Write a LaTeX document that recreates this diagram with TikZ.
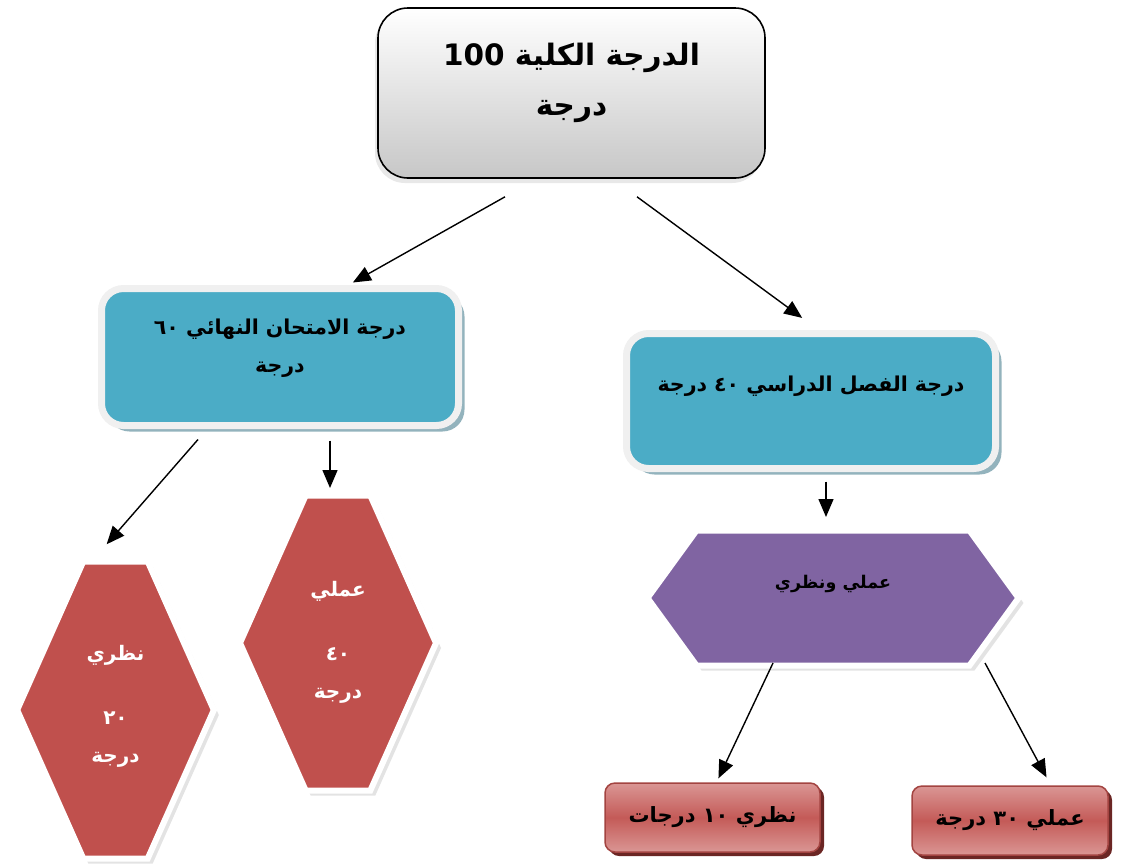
\documentclass[tikz,border=0pt]{standalone}
\usepackage{fontspec}
\usepackage{xcolor}
\usetikzlibrary{shapes.symbols,shadows,arrows.meta}
\newfontfamily\arabicfont[Script=Arabic]{DejaVu Sans}
\TeXXeTstate=1
\newcommand{\ar}[1]{\beginR #1\endR}

\definecolor{BlueAccent}{HTML}{4BACC6}
\definecolor{RedAccent}{HTML}{C0504D}
\definecolor{PurpleAccent}{HTML}{8064A2}
\definecolor{LightRed}{HTML}{DA9694}
\definecolor{DarkRed}{HTML}{6B2624}
\definecolor{FrameGray}{HTML}{F0F0F0}
\definecolor{BlueShadow}{HTML}{93B3BD}

\begin{document}
\begin{tikzpicture}[x=1pt,y=1pt,->,>={Triangle[length=18pt,width=15pt]},shorten >=1pt,line width=1.4pt,
  main node/.style={align=center,font=\arabicfont\bfseries},
  total node/.style={main node,rectangle,rounded corners=30pt,draw=black,line width=1.6pt,top color=white,bottom color=black!22,
    minimum width=387pt,minimum height=170pt,font=\arabicfont\bfseries\fontsize{29.5}{35}\selectfont,
    drop shadow={opacity=0.18,shadow xshift=-3pt,shadow yshift=-5pt}},
  blue node/.style={main node,rectangle,rounded corners=22pt,draw=FrameGray,line width=7pt,fill=BlueAccent,
    font=\arabicfont\bfseries\fontsize{20.5}{25}\selectfont,
    drop shadow={fill=BlueShadow,opacity=1,shadow xshift=6pt,shadow yshift=-6pt}},
  hex node/.style={main node,signal,signal to=east and west,draw=white,line width=6pt,
    drop shadow={opacity=0.22,shadow xshift=5pt,shadow yshift=-5pt}},
  red hex/.style={hex node,fill=RedAccent,text=white,signal pointer angle=132,
    font=\arabicfont\bfseries\fontsize{20}{24}\selectfont},
  purple hex/.style={hex node,fill=PurpleAccent,signal pointer angle=108,
    font=\arabicfont\bfseries\fontsize{17.5}{21}\selectfont},
  red box/.style={main node,rectangle,rounded corners=10pt,draw=RedAccent!85!black,line width=1.5pt,
    top color=LightRed,bottom color=LightRed,middle color=RedAccent!85!LightRed,minimum height=69pt,
    font=\arabicfont\bfseries\fontsize{21}{25}\selectfont,
    drop shadow={fill=DarkRed,opacity=1,shadow xshift=4pt,shadow yshift=-4pt}}]

\useasboundingbox (0,0) rectangle (1129,-865);

\node[total node,text height=54pt,text depth=10pt] (1) at (571.5,-93) {\ar{الدرجة الكلية \beginL 100\endL}\\[15pt]\ar{درجة}};

\node[blue node,minimum width=357pt,minimum height=137pt,text height=44pt,text depth=14pt] (2) at (280,-357)
  {\ar{درجة الامتحان النهائي ٦٠}\\[13pt]\ar{درجة}};
\node[blue node,minimum width=369pt,minimum height=135pt,text height=10pt,text depth=30pt] (3) at (811,-401)
  {\ar{درجة الفصل الدراسي ٤٠ درجة}};

\node[red hex,minimum width=191pt,minimum height=297pt,text height=110pt,text depth=6pt] (4) at (115.5,-710)
  {\ar{نظري}\\[40pt]\ar{٢٠}\\[14pt]\ar{درجة}};
\node[red hex,minimum width=196pt,minimum height=295pt,text height=116pt,text depth=6pt] (5) at (338,-643)
  {\ar{عملي}\\[40pt]\ar{٤٠}\\[14pt]\ar{درجة}};

\node[purple hex,minimum width=371pt,minimum height=135pt,text height=8pt,text depth=28pt] (6) at (833,-598)
  {\ar{عملي ونظري}};

\node[red box,minimum width=215pt] (7) at (712.5,-817.5) {\ar{نظري ١٠ درجات}};
\node[red box,minimum width=196pt] (8) at (1010,-820.5) {\ar{عملي ٣٠ درجة}};

\path
  ([shift={(-66.5,-18)}]1.south) edge ([shift={(72,2)}]2.north)
  ([shift={(65.5,-18)}]1.south) edge ([shift={(-8,11.5)}]3.north)
  ([shift={(-82,-10.5)}]2.south) edge ([shift={(-9.5,13.5)}]4.north)
  ([shift={(50,-11.5)}]2.south) edge ([shift={(-8,3.5)}]5.north)
  ([shift={(15,-9.5)}]3.south) edge ([shift={(-7,9.5)}]6.north)
  ([shift={(-60,5.5)}]6.south) edge ([shift={(5.5,3)}]7.north)
  ([shift={(152,5.5)}]6.south) edge ([shift={(37,7)}]8.north)
  ;
\end{tikzpicture}
\end{document}
